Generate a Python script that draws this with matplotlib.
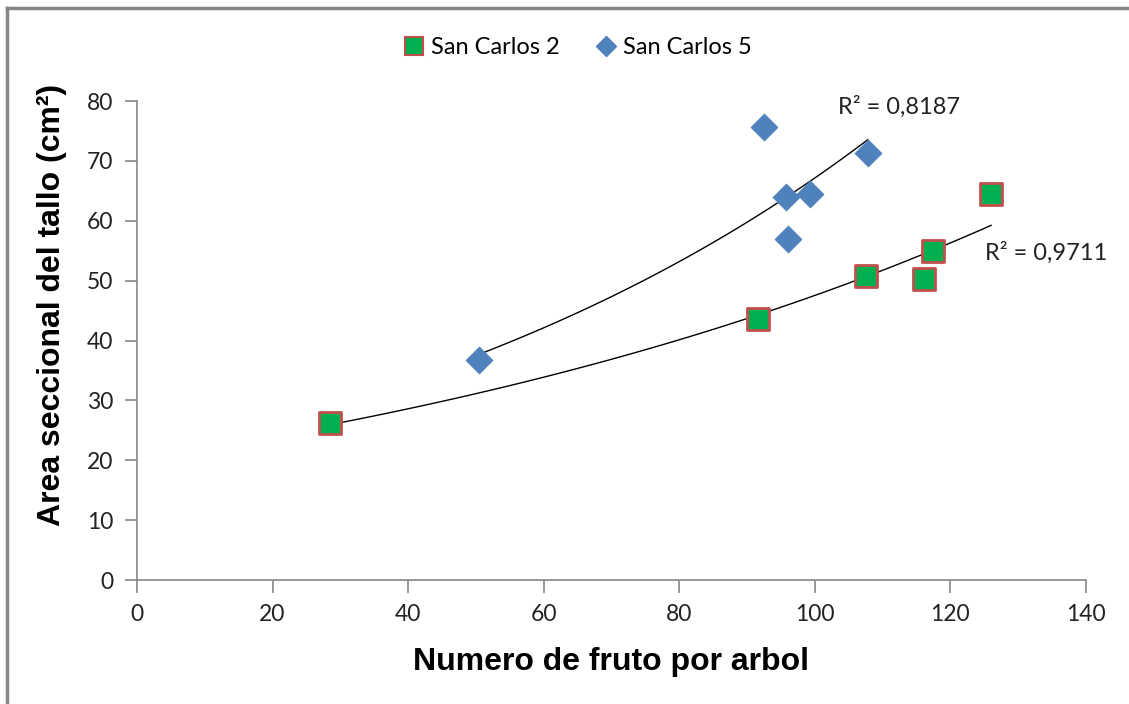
import numpy as np
import matplotlib
matplotlib.use("Agg")
import matplotlib.pyplot as plt
from matplotlib.lines import Line2D

# San Carlos 2
sc2_x = [28.5, 91.6, 107.5, 116.1, 117.4, 126.0]
sc2_y = [26.3, 43.6, 50.7, 50.3, 54.9, 64.4]
# San Carlos 5
sc5_x = [50.4, 92.5, 95.7, 99.3, 96.0, 107.8]
sc5_y = [36.7, 75.7, 63.9, 64.4, 56.9, 71.4]

r2_labels = ["R² = 0,9711", "R² = 0,8187"]

fig = plt.figure(figsize=(11.29, 7.04), dpi=100)
ax = fig.add_axes([0.1213, 0.1761, 0.8406, 0.6804])

tick_font = "Lato"
grey = "#868686"


def exp_trend(x, y):
    # Excel style exponential trendline: ln(y) = ln(a) + b*x
    x = np.asarray(x, float)
    y = np.asarray(y, float)
    b, lna = np.polyfit(x, np.log(y), 1)
    xs = np.linspace(x.min(), x.max(), 100)
    return xs, np.exp(lna) * np.exp(b * xs)


for xs, ys in (exp_trend(sc2_x, sc2_y), exp_trend(sc5_x, sc5_y)):
    ax.plot(xs, ys, color="black", lw=1.0, zorder=2)

ax.scatter(sc2_x, sc2_y, marker="s", s=240, c="#00b050", edgecolors="#c0504d",
           linewidths=2, zorder=3)
ax.scatter(sc5_x, sc5_y, marker="D", s=190, c="#4f81bd", edgecolors="#4f81bd",
           linewidths=0.5, zorder=3)

ax.text(125.1, 54.6, r2_labels[0], fontsize=17, family=tick_font,
        color="#222222", va="center")
ax.text(103.4, 79.0, r2_labels[1], fontsize=17, family=tick_font,
        color="#222222", va="center")

ax.set_xlim(0, 140)
ax.set_ylim(0, 80)
ax.set_xticks(np.arange(0, 141, 20))
ax.set_yticks(np.arange(0, 81, 10))
for s in ("top", "right"):
    ax.spines[s].set_visible(False)
for s in ("left", "bottom"):
    ax.spines[s].set_color(grey)
    ax.spines[s].set_linewidth(1.2)
ax.tick_params(axis="both", color=grey, length=9, width=1.2, labelsize=16.5,
               labelcolor="#222222", direction="out")
ax.tick_params(axis="x", pad=8)
ax.tick_params(axis="y", pad=8)
for lab in ax.get_xticklabels() + ax.get_yticklabels():
    lab.set_family(tick_font)

ax.set_xlabel("Numero de fruto por arbol", fontsize=23, fontweight="bold",
              family="Liberation Sans", labelpad=16)
ax.set_ylabel("Area seccional del tallo (cm²)", fontsize=23, fontweight="bold",
              family="Liberation Sans")
ax.yaxis.set_label_coords(-0.074, 0.574)

handles = [
    Line2D([], [], ls="none", marker="s", ms=13, mfc="#00b050", mec="#c0504d", mew=1.5),
    Line2D([], [], ls="none", marker="D", ms=10, mfc="#4f81bd", mec="#4f81bd"),
]
leg = fig.legend(handles, ["San Carlos 2", "San Carlos 5"], loc="center",
                 bbox_to_anchor=(0.51, 0.932), ncol=2, frameon=False,
                 prop={"family": tick_font, "size": 17}, handletextpad=0.1,
                 columnspacing=1.4, handlelength=1.2)

# outer chart frame (top and left edges visible)
fig.add_artist(Line2D([0.0062, 1.0], [0.9886, 0.9886], color=grey, lw=2.5))
fig.add_artist(Line2D([0.0062, 0.0062], [0.0, 0.9886], color=grey, lw=2.5))

fig.savefig("out.png", dpi=100)
